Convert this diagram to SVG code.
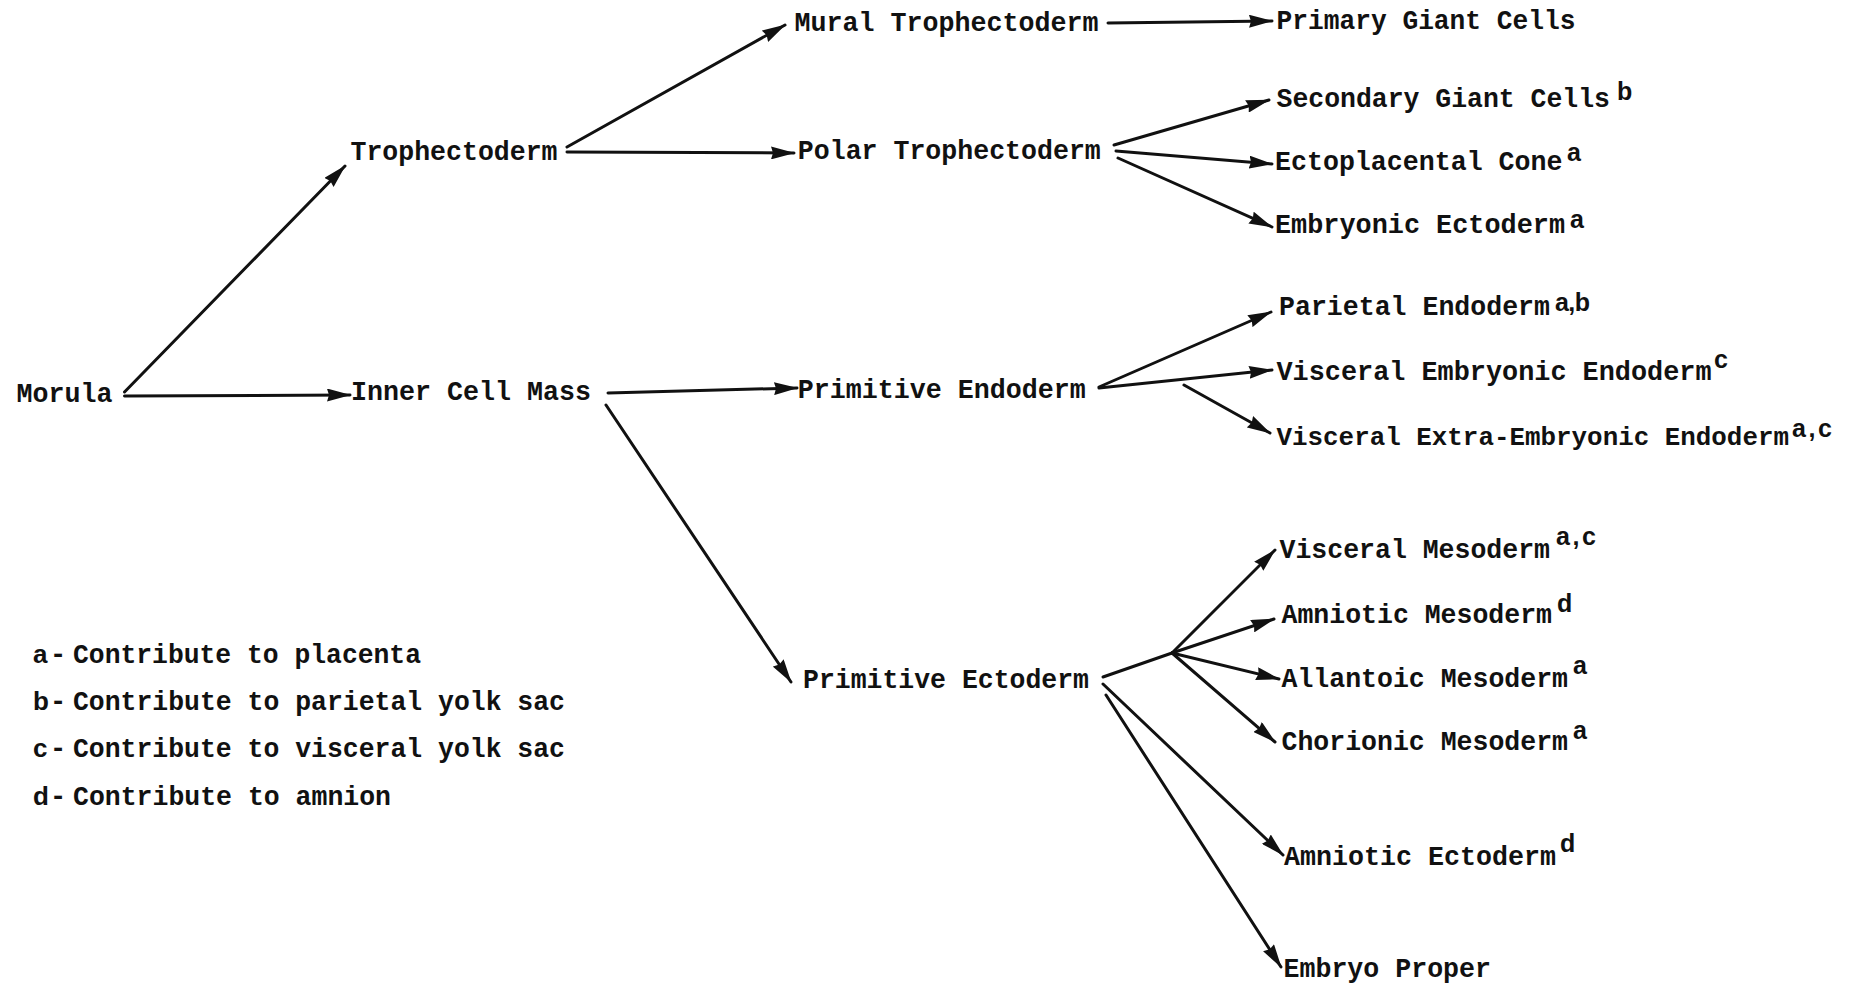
<svg xmlns="http://www.w3.org/2000/svg" width="1860" height="987" viewBox="0 0 1860 987">
<style>
  .tw { font-family: "Liberation Mono", "Courier New", monospace; font-size: 27px; font-weight: bold; fill: #111; }
  .sup { font-family: "Liberation Sans", Arial, sans-serif; font-size: 25px; font-weight: bold; fill: #111; }
  .lg { font-family: "Liberation Sans", Arial, sans-serif; font-size: 26px; font-weight: bold; fill: #111; }
  .c path { fill: none; stroke: #111; stroke-width: 3; stroke-linecap: round; }
  .c path.a { marker-end: url(#ah); }
</style>
<defs>
  <marker id="ah" viewBox="0 0 24 13" markerWidth="24" markerHeight="13" refX="23" refY="6.5" orient="auto" markerUnits="userSpaceOnUse">
    <path d="M0,0 L24,6.5 L0,13 L2,6.5 z" fill="#111"/>
  </marker>
</defs>
<rect width="1860" height="987" fill="#fff"/>

<g id="connectors" class="c">
  <path class="a" d="M124.5,392 L345,166"/>
  <path class="a" d="M124.5,396 L350,395"/>
  <path class="a" d="M567,147 L785,25"/>
  <path class="a" d="M567,152 L794,153"/>
  <path class="a" d="M1108,23 L1272,21"/>
  <path class="a" d="M1114,145 L1269,100"/>
  <path class="a" d="M1116,151 L1272,164"/>
  <path class="a" d="M1118,158 L1272,227"/>
  <path class="a" d="M608,393 L797,388"/>
  <path class="a" d="M606,405 L791,682"/>
  <path class="a" d="M1099,387 L1271,312"/>
  <path class="a" d="M1099,388 L1272,370"/>
  <path class="a" d="M1184,385 L1270,433"/>
  <path d="M1103,677 L1172,653"/>
  <path class="a" d="M1172,653 L1275,550"/>
  <path class="a" d="M1172,653 L1274,619"/>
  <path class="a" d="M1172,653 L1279,679"/>
  <path class="a" d="M1172,653 L1275,742"/>
  <path class="a" d="M1103,684 L1283,855"/>
  <path class="a" d="M1106,695 L1281,967"/>
</g>

<g id="morula"><text class="tw" x="16.6" y="402" textLength="96" lengthAdjust="spacingAndGlyphs">Morula</text></g>
<g id="trophectoderm"><text class="tw" x="350.5" y="160" textLength="207" lengthAdjust="spacingAndGlyphs">Trophectoderm</text></g>
<g id="inner-cell-mass"><text class="tw" x="351" y="400" textLength="240" lengthAdjust="spacingAndGlyphs">Inner Cell Mass</text></g>
<g id="mural-trophectoderm"><text class="tw" x="794.5" y="31" textLength="304" lengthAdjust="spacingAndGlyphs">Mural Trophectoderm</text></g>
<g id="primary-giant-cells"><text class="tw" x="1276.5" y="29" textLength="299" lengthAdjust="spacingAndGlyphs">Primary Giant Cells</text></g>
<g id="polar-trophectoderm"><text class="tw" x="797.8" y="159" textLength="303" lengthAdjust="spacingAndGlyphs">Polar Trophectoderm</text></g>
<g id="secondary-giant-cells"><text class="tw" x="1276.5" y="107" textLength="333.5" lengthAdjust="spacingAndGlyphs">Secondary Giant Cells</text><text class="sup" x="1617" y="100">b</text></g>
<g id="ectoplacental-cone"><text class="tw" x="1275" y="170" textLength="287.5" lengthAdjust="spacingAndGlyphs">Ectoplacental Cone</text><text class="sup" x="1567" y="161">a</text></g>
<g id="embryonic-ectoderm"><text class="tw" x="1275" y="233" textLength="290" lengthAdjust="spacingAndGlyphs">Embryonic Ectoderm</text><text class="sup" x="1570" y="228">a</text></g>
<g id="primitive-endoderm"><text class="tw" x="797.8" y="398" textLength="288" lengthAdjust="spacingAndGlyphs">Primitive Endoderm</text></g>
<g id="parietal-endoderm"><text class="tw" x="1279" y="315" textLength="271" lengthAdjust="spacingAndGlyphs">Parietal Endoderm</text><text class="sup" x="1555" y="311" textLength="35" lengthAdjust="spacing">a,b</text></g>
<g id="visceral-embryonic-endoderm"><text class="tw" x="1276.5" y="380" textLength="435" lengthAdjust="spacingAndGlyphs">Visceral Embryonic Endoderm</text><text class="sup" x="1714" y="368">c</text></g>
<g id="visceral-extra-embryonic-endoderm"><text class="tw" x="1276.5" y="445" style="font-size:26px" textLength="512.5" lengthAdjust="spacingAndGlyphs">Visceral Extra-Embryonic Endoderm</text><text class="sup" x="1792" y="437" textLength="40" lengthAdjust="spacing">a,c</text></g>
<g id="primitive-ectoderm"><text class="tw" x="803" y="688" textLength="286" lengthAdjust="spacingAndGlyphs">Primitive Ectoderm</text></g>
<g id="visceral-mesoderm"><text class="tw" x="1279.5" y="558" textLength="270.5" lengthAdjust="spacingAndGlyphs">Visceral Mesoderm</text><text class="sup" x="1556" y="545" textLength="40" lengthAdjust="spacing">a,c</text></g>
<g id="amniotic-mesoderm"><text class="tw" x="1281.5" y="623" textLength="270.5" lengthAdjust="spacingAndGlyphs">Amniotic Mesoderm</text><text class="sup" x="1557" y="612">d</text></g>
<g id="allantoic-mesoderm"><text class="tw" x="1281.5" y="687" textLength="286.5" lengthAdjust="spacingAndGlyphs">Allantoic Mesoderm</text><text class="sup" x="1573" y="674">a</text></g>
<g id="chorionic-mesoderm"><text class="tw" x="1281.5" y="750" textLength="286.5" lengthAdjust="spacingAndGlyphs">Chorionic Mesoderm</text><text class="sup" x="1573" y="739">a</text></g>
<g id="amniotic-ectoderm"><text class="tw" x="1284" y="865" textLength="272" lengthAdjust="spacingAndGlyphs">Amniotic Ectoderm</text><text class="sup" x="1560" y="852">d</text></g>
<g id="embryo-proper"><text class="tw" x="1283.5" y="977" textLength="207.5" lengthAdjust="spacingAndGlyphs">Embryo Proper</text></g>

<g id="legend">
  <text class="lg" x="33" y="663">a</text><text class="tw" x="50" y="663">-</text><text class="tw" x="73" y="663" textLength="348" lengthAdjust="spacingAndGlyphs">Contribute to placenta</text>
  <text class="lg" x="33" y="710">b</text><text class="tw" x="50" y="710">-</text><text class="tw" x="73" y="710" textLength="492" lengthAdjust="spacingAndGlyphs">Contribute to parietal yolk sac</text>
  <text class="lg" x="33" y="757">c</text><text class="tw" x="50" y="757">-</text><text class="tw" x="73" y="757" textLength="492" lengthAdjust="spacingAndGlyphs">Contribute to visceral yolk sac</text>
  <text class="lg" x="33" y="805">d</text><text class="tw" x="50" y="805">-</text><text class="tw" x="73" y="805" textLength="318" lengthAdjust="spacingAndGlyphs">Contribute to amnion</text>
</g>
</svg>
